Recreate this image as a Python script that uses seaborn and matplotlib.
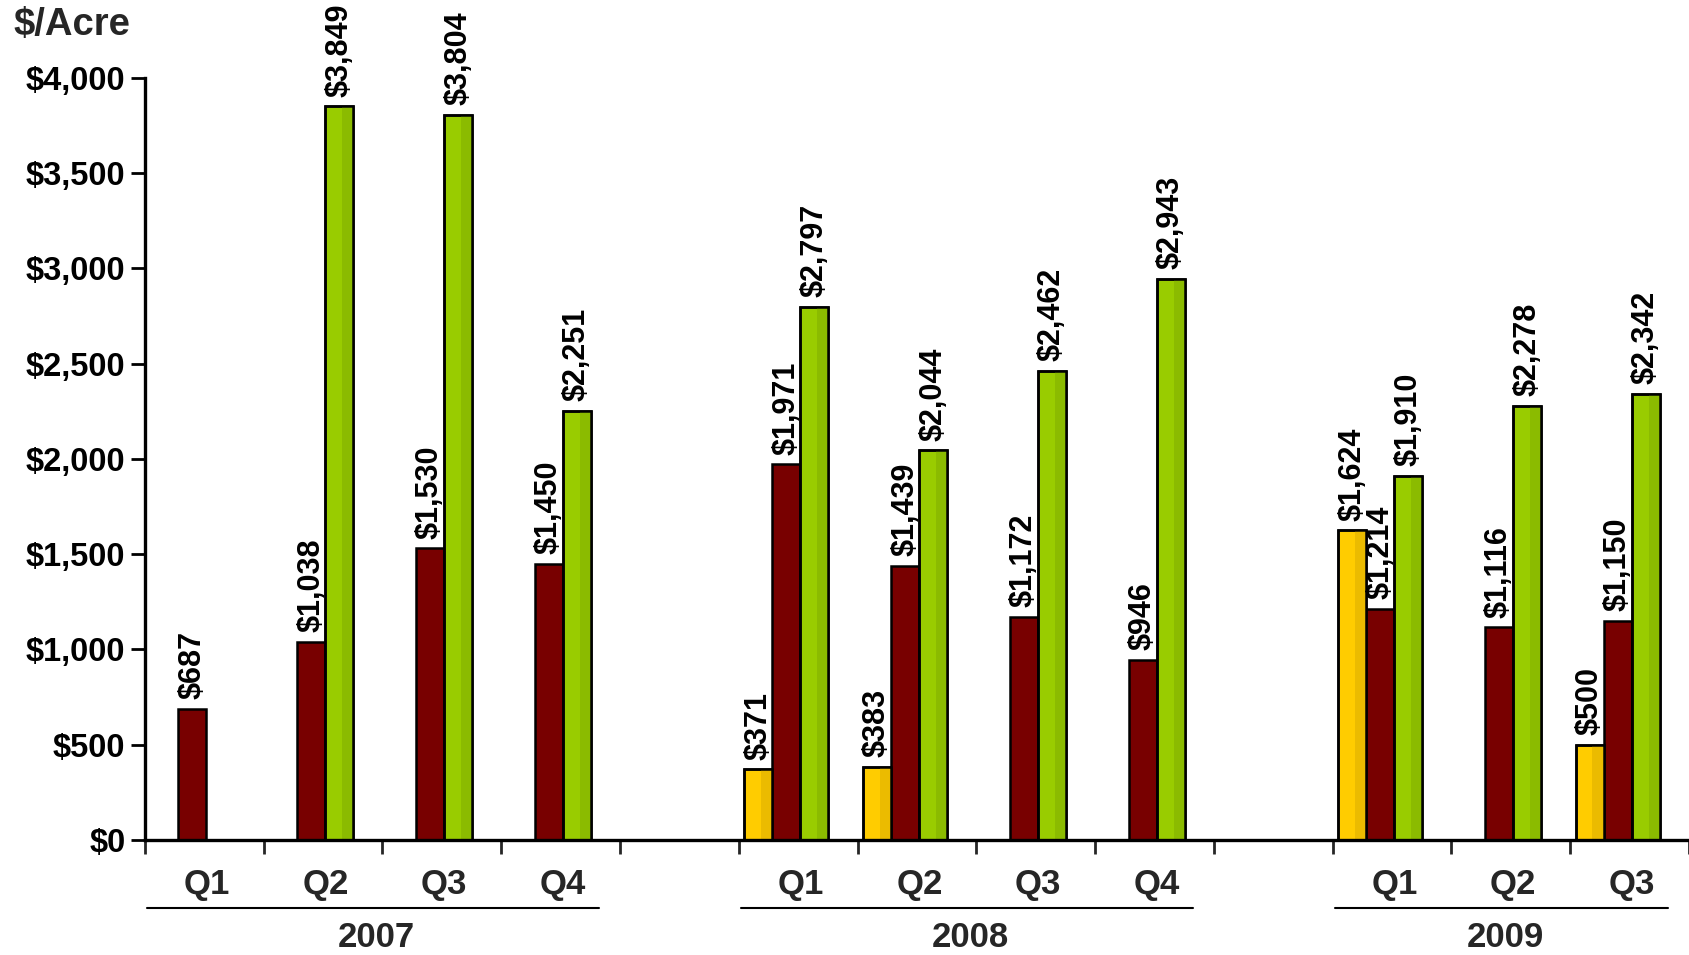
import numpy as np
import pandas as pd
import matplotlib
matplotlib.use("Agg")
import matplotlib.pyplot as plt
from matplotlib.ticker import FuncFormatter
from matplotlib.patches import Rectangle
import seaborn as sns

# ---- data -------------------------------------------------------------
years = ["2007", "2008", "2009"]
quarter_labels = ["Q1", "Q2", "Q3", "Q4"]
quarters_per_year = [4, 4, 3]

series_names = ["Series A", "Series B", "Series C"]
# one value per reported quarter (2007 Q1 ... 2009 Q3); None = not reported
series_a = [None, None, None, None, 371, 383, None, None, 1624, None, 500]
series_b = [687, 1038, 1530, 1450, 1971, 1439, 1172, 946, 1214, 1116, 1150]
series_c = [None, 3849, 3804, 2251, 2797, 2044, 2462, 2943, 1910, 2278, 2342]

colors = ["#FFCC00", "#780000", "#99CC00"]
shade_colors = ["#EBBB00", "#780000", "#8BBB00"]

# ---- tidy frame: quarters laid out with an empty slot between years -----
periods = []
for yi, n in enumerate(quarters_per_year):
    for qi in range(n):
        periods.append((years[yi], quarter_labels[qi], yi * 5 + qi))

rows = []
for name, values in zip(series_names, [series_a, series_b, series_c]):
    for (yr, q, slot), v in zip(periods, values):
        if v is not None:
            rows.append({"year": yr, "quarter": q, "slot": slot,
                         "series": name, "value": v})
df = pd.DataFrame(rows)

# ---- figure -----------------------------------------------------------
sns.set_theme(style="white")
plt.rcParams["font.family"] = ["Liberation Sans", "DejaVu Sans"]
plt.rcParams["font.weight"] = "bold"

fig = plt.figure(figsize=(16.89, 9.55), dpi=100)
ax = fig.add_axes([0.0858, 0.1204, 0.9142, 0.7983])

sns.barplot(data=df, x="slot", y="value", hue="series",
            hue_order=series_names, palette=colors, saturation=1,
            native_scale=True, width=0.71, edgecolor="black",
            linewidth=1.8, errorbar=None, legend=False, ax=ax)

# two-tone shading on the lighter bars plus value labels
for container, base, shade in zip(ax.containers, colors, shade_colors):
    for bar in container:
        h = bar.get_height()
        if not np.isfinite(h) or h <= 0:
            continue
        x0, w = bar.get_x(), bar.get_width()
        if shade != base:
            ax.add_patch(Rectangle((x0 + 0.6 * w, 0), 0.4 * w, h,
                                   facecolor=shade, edgecolor="none",
                                   zorder=bar.get_zorder() + 0.1))
            ax.add_patch(Rectangle((x0, 0), w, h, fill=False,
                                   edgecolor="black", linewidth=1.8,
                                   zorder=bar.get_zorder() + 0.2))
        ax.annotate(f"${h:,.0f}", xy=(x0 + w / 2, h), xytext=(0, 7),
                    textcoords="offset points", rotation=90,
                    ha="center", va="bottom", fontsize=22,
                    fontweight="bold", color="black",
                    annotation_clip=False)

# ---- axes -------------------------------------------------------------
shift = 0.1  # category slots sit slightly right of the bar groups
n_slots = periods[-1][2] + 1
ax.set_xlim(-0.5 + shift, n_slots - 0.5 + shift)
ax.set_ylim(0, 4000)
ax.set_yticks(np.arange(0, 4001, 500))
ax.yaxis.set_major_formatter(FuncFormatter(lambda v, _: f"${v:,.0f}"))
ax.set_xticks(np.arange(-0.5 + shift, n_slots - 0.4 + shift, 1.0))
ax.set_xticklabels([])
ax.set_xlabel("")
ax.set_ylabel("")

for side in ["top", "right"]:
    ax.spines[side].set_visible(False)
for side in ["left", "bottom"]:
    ax.spines[side].set_linewidth(2.4)
    ax.spines[side].set_color("black")

ax.tick_params(axis="y", direction="out", length=10, width=2,
               labelsize=23.5, pad=4, colors="black", left=True)
ax.tick_params(axis="x", direction="out", length=10, width=2,
               bottom=True)
for lbl in ax.get_yticklabels():
    lbl.set_fontweight("bold")

trans = ax.get_xaxis_transform()

# quarter labels
for yr, q, slot in periods:
    ax.text(slot + shift + 0.02, -0.059, q, transform=trans, ha="center",
            va="center", fontsize=25, fontweight="bold", clip_on=False)

# year underline and label
for yi, yr in enumerate(years):
    slots = [s for y, _, s in periods if y == yr]
    start, end = slots[0] - 0.38, slots[-1] + 0.42
    ax.plot([start, end], [-0.089, -0.089], transform=trans, color="black",
            linewidth=1.5, clip_on=False)
    ax.text(np.mean(slots) + 0.05, -0.128, yr, transform=trans,
            ha="center", va="center", fontsize=25, fontweight="bold",
            clip_on=False)

fig.text(13 / 1689, 1 - 25 / 955, "$/Acre", ha="left", va="center",
         fontsize=27.5, fontweight="bold")

fig.savefig("out.png", dpi=100, facecolor="white")
